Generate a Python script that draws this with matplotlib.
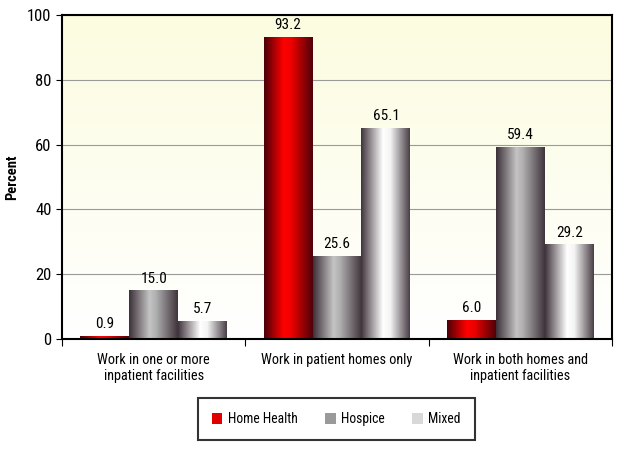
import numpy as np
import matplotlib
matplotlib.use("Agg")
import matplotlib.pyplot as plt
from matplotlib import font_manager
from matplotlib.colors import LinearSegmentedColormap
from matplotlib.patches import Patch

# data
categories = ["Work in one or more\ninpatient facilities",
              "Work in patient homes only",
              "Work in both homes and\ninpatient facilities"]
series_names = ["Home Health", "Hospice", "Mixed"]
home_health = [0.9, 93.2, 6.0]
hospice = [15.0, 25.6, 59.4]
mixed = [5.7, 65.1, 29.2]

# condensed font if one is installed
names = {f.name for f in font_manager.fontManager.ttflist}
fam = "DejaVu Sans"
for cand in ["Liberation Sans Narrow", "Roboto Condensed", "Open Sans Condensed", "Noto Sans Condensed"]:
    if cand in names:
        fam = cand
        break
plt.rcParams["font.family"] = [fam, "DejaVu Sans"]
plt.rcParams["font.stretch"] = "condensed"

fig = plt.figure(figsize=(6.25, 4.5), dpi=100)
ax = fig.add_axes([0.0992, 0.2467, 0.8800, 0.7200])

# gradient colours for the cylinder look (edge -> highlight -> edge)
cmaps = [
    LinearSegmentedColormap.from_list("r", [(0, "#4a0008"), (0.4, "#ff0000"), (0.55, "#f00000"), (1, "#50000a")]),
    LinearSegmentedColormap.from_list("g", [(0, "#3c3038"), (0.42, "#c4c4c4"), (0.55, "#b0b0b0"), (1, "#40343c")]),
    LinearSegmentedColormap.from_list("w", [(0, "#40343c"), (0.45, "#ffffff"), (0.6, "#f4f4f4"), (1, "#4a3e46")]),
]
legend_colors = ["#e00000", "#9a9a9a", "#d8d8d8"]

x = np.arange(len(categories))
width = 0.267
grad = np.linspace(0, 1, 256).reshape(1, -1)

# background gradient (light yellow top -> white bottom)
bg = LinearSegmentedColormap.from_list("bg", ["#ffffff", "#fcfce0"])
ax.imshow(np.linspace(0, 1, 256).reshape(-1, 1), cmap=bg, origin="lower",
          extent=[-0.5, 2.5, 0, 100], aspect="auto", zorder=0)

for i, vals in enumerate([home_health, hospice, mixed]):
    pos = x + (i - 1) * width
    bars = ax.bar(pos, vals, width, color="none", edgecolor="none", zorder=2)
    for b, v, p in zip(bars, vals, pos):
        im = ax.imshow(grad, cmap=cmaps[i], aspect="auto", zorder=2,
                       extent=[p - width / 2, p + width / 2, 0, v])
        im.set_clip_path(b)
        ax.text(p, v + 1.5, f"{v:.1f}", ha="center", va="bottom", fontsize=11, zorder=3)

ax.set_xlim(-0.5, 2.5)
ax.set_ylim(0, 100)
ax.set_yticks(range(0, 101, 20))
ax.yaxis.grid(True, color="#9a9a9a", linewidth=0.8, zorder=1)
ax.set_axisbelow(True)
ax.set_xticks([-0.5, 0.5, 1.5, 2.5], minor=False)
ax.set_xticklabels([])
ax.set_xticks(x, minor=True)
ax.set_xticklabels(categories, minor=True, fontsize=10.3)
ax.tick_params(axis="x", which="minor", length=0, pad=10)
ax.tick_params(axis="x", which="major", length=5, direction="out")
ax.tick_params(axis="y", labelsize=12, length=4)
for s in ax.spines.values():
    s.set_color("black")
    s.set_linewidth(1.5)
ax.set_ylabel("Percent", fontsize=10.5, fontweight="bold", labelpad=6)

handles = [Patch(facecolor=c, edgecolor="none") for c in legend_colors]
leg = fig.legend(handles, series_names, loc="center", bbox_to_anchor=(0.538, 0.0688),
                 ncol=3, fontsize=9.8, frameon=True, fancybox=False,
                 handlelength=0.8, handleheight=0.8, handletextpad=0.4,
                 columnspacing=2.0, borderpad=1.0)
leg.get_frame().set_edgecolor("black")
leg.get_frame().set_linewidth(1.5)

fig.savefig("out.png", dpi=100)
